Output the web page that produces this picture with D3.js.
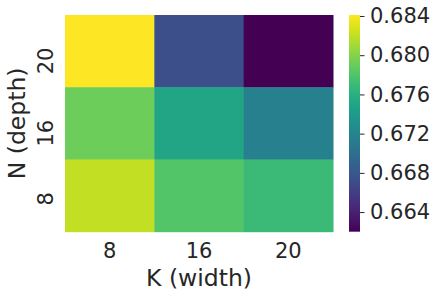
<!DOCTYPE html>
<html>
<head>
<meta charset="utf-8">
<script src="https://cdn.jsdelivr.net/npm/d3@7"></script>
<style>
  body { margin: 0; background: #fff; }
  text { font-family: "DejaVu Sans", sans-serif; fill: #262626; }
</style>
</head>
<body>
<div id="chart"></div>
<script>
// categories
var widths = ["8", "16", "20"];      // K (width), left to right
var depths = ["20", "16", "8"];      // N (depth), top to bottom
// accuracy per depth row, in width order
var row20 = [0.6841, 0.6673, 0.6620];
var row16 = [0.6791, 0.6750, 0.6715];
var row8  = [0.6821, 0.6781, 0.6770];
var colorTicks = [0.664, 0.668, 0.672, 0.676, 0.680, 0.684];
var vmin = 0.6620, vmax = 0.6841;

var rows = { "20": row20, "16": row16, "8": row8 };
var cells = [];
depths.forEach(function (n) {
  widths.forEach(function (k, i) {
    cells.push({ k: k, n: n, v: rows[n][i] });
  });
});

var svg = d3.select("#chart").append("svg")
    .attr("width", 439)
    .attr("height", 297);

var x = d3.scaleBand().domain(widths).range([65, 333]);
var y = d3.scaleBand().domain(depths).range([15, 231.7]);
var color = d3.scaleSequential(d3.interpolateViridis).domain([vmin, vmax]);

// heatmap cells
svg.selectAll("rect.cell")
    .data(cells)
    .enter()
    .append("rect")
    .attr("class", "cell")
    .attr("x", function (d) { return x(d.k); })
    .attr("y", function (d) { return y(d.n); })
    .attr("width", x.bandwidth() + 0.5)
    .attr("height", y.bandwidth() + 0.5)
    .attr("fill", function (d) { return color(d.v); });

// x axis
var xAxis = svg.append("g")
    .attr("transform", "translate(0,231.7)")
    .call(d3.axisBottom(x).tickSize(0).tickPadding(11));
xAxis.select(".domain").remove();
xAxis.selectAll("text").style("font-size", "21px").attr("fill", "#262626");

// y tick labels, rotated like the original
svg.selectAll("text.ytick")
    .data(depths)
    .enter()
    .append("text")
    .attr("class", "ytick")
    .attr("transform", function (d) {
      return "translate(52.5," + (y(d) + y.bandwidth() / 2 - 3.5) + ") rotate(-90)";
    })
    .style("text-anchor", "end")
    .style("font-size", "21px")
    .text(function (d) { return d; });

// axis titles
svg.append("text")
    .attr("x", 199)
    .attr("y", 286)
    .style("text-anchor", "middle")
    .style("font-size", "23.5px")
    .text("K (width)");

svg.append("text")
    .attr("transform", "translate(25,123.4) rotate(-90)")
    .style("text-anchor", "middle")
    .style("font-size", "23.5px")
    .text("N (depth)");

// colorbar
var grad = svg.append("defs").append("linearGradient")
    .attr("id", "cbar")
    .attr("x1", 0).attr("y1", 1)
    .attr("x2", 0).attr("y2", 0);
d3.range(0, 1.0001, 0.05).forEach(function (t) {
  grad.append("stop")
      .attr("offset", t)
      .attr("stop-color", d3.interpolateViridis(t));
});

var cy = d3.scaleLinear().domain([vmin, vmax]).range([231.7, 15]);
svg.append("rect")
    .attr("x", 349)
    .attr("y", 15)
    .attr("width", 11)
    .attr("height", 216.7)
    .attr("fill", "url(#cbar)");

var cAxis = svg.append("g")
    .attr("transform", "translate(360,0)")
    .call(d3.axisRight(cy).tickValues(colorTicks).tickSize(4.5).tickPadding(5.5)
      .tickFormat(d3.format(".3f")));
cAxis.select(".domain").remove();
cAxis.selectAll("line").attr("stroke", "#262626").attr("stroke-width", 1);
cAxis.selectAll("text").style("font-size", "21px").attr("fill", "#262626");
</script>
</body>
</html>
